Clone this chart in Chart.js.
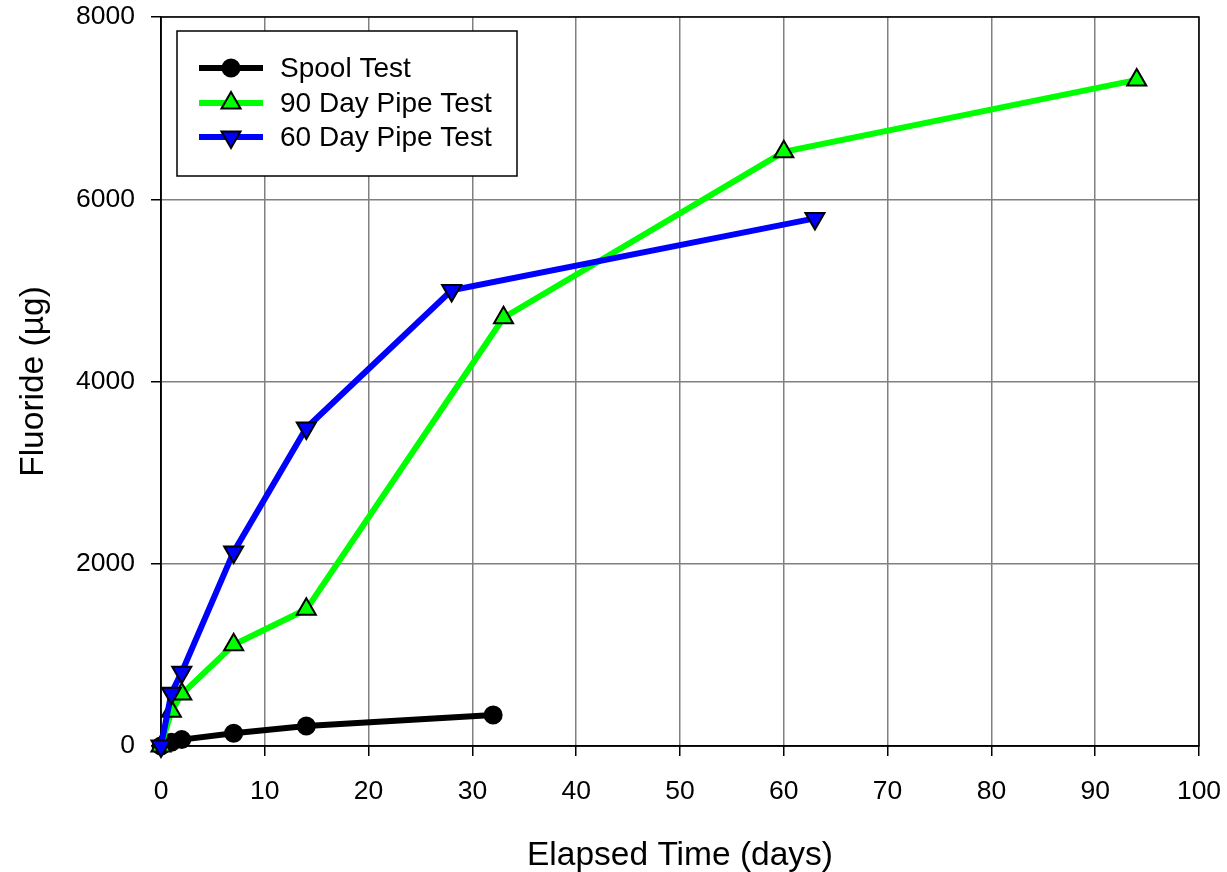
<!DOCTYPE html>
<html>
<head>
<meta charset="utf-8">
<script src="https://cdn.jsdelivr.net/npm/chart.js@4/dist/chart.umd.min.js"></script>
<style>
  html, body { margin: 0; padding: 0; background: #fff; }
  #wrap { width: 1227px; height: 872px; }
</style>
</head>
<body>
<div id="wrap"><canvas id="fluorideChart" width="1227" height="872"></canvas></div>
<script>
// values
const spoolDays = [0, 1, 2, 7, 14, 32];
const spoolFluoride = [0, 40, 70, 140, 220, 340];

const pipe90Days = [0, 1, 2, 7, 14, 33, 60, 94];
const pipe90Fluoride = [0, 380, 570, 1110, 1500, 4700, 6520, 7310];

const pipe60Days = [0, 1, 2, 7, 14, 28, 63];
const pipe60Fluoride = [0, 580, 810, 2130, 3490, 5000, 5790];

const xTicks = [0, 10, 20, 30, 40, 50, 60, 70, 80, 90, 100];
const yTicks = [0, 2000, 4000, 6000, 8000];

const fontFamily = '"Liberation Sans", Arial, sans-serif';

function toPoints(xs, ys) {
    return xs.map((x, i) => ({ x: x, y: ys[i] }));
}

const series = [
    { label: 'Spool Test', color: '#000000', style: 'circle', rotation: 0, radius: 8.5, days: spoolDays, vals: spoolFluoride },
    { label: '90 Day Pipe Test', color: '#00ff00', style: 'triangle', rotation: 0, radius: 11, days: pipe90Days, vals: pipe90Fluoride },
    { label: '60 Day Pipe Test', color: '#0000ff', style: 'triangle', rotation: 180, radius: 11, days: pipe60Days, vals: pipe60Fluoride }
];

// first dataset is top-most, so reverse (60 day on top like the original)
const datasets = series.slice().reverse().map(s => ({
    label: s.label,
    data: toPoints(s.days, s.vals),
    borderColor: s.color,
    borderWidth: 6,
    pointStyle: s.style,
    rotation: s.rotation,
    pointRadius: s.radius,
    pointBackgroundColor: s.color,
    pointBorderColor: '#000',
    pointBorderWidth: 2,
    tension: 0,
    clip: false
}));

// black frame round the plot area
const frame = {
    id: 'frame',
    beforeDatasetsDraw(chart) {
        const a = chart.chartArea, c = chart.ctx;
        c.save();
        c.strokeStyle = '#000';
        c.lineWidth = 1.5;
        c.strokeRect(a.left, a.top, a.right - a.left, a.bottom - a.top);
        c.restore();
    }
};

// legend box inside the plot, drawn by hand
const boxLegend = {
    id: 'boxLegend',
    afterDraw(chart) {
        const c = chart.ctx;
        c.save();
        c.fillStyle = '#fff';
        c.fillRect(177, 31, 340, 145);
        c.strokeStyle = '#000';
        c.lineWidth = 1.5;
        c.strokeRect(177, 31, 340, 145);
        const rows = [68, 103, 137];
        series.forEach((s, i) => {
            const y = rows[i];
            c.strokeStyle = s.color;
            c.lineWidth = 6;
            c.beginPath();
            c.moveTo(199, y);
            c.lineTo(263, y);
            c.stroke();
            c.fillStyle = s.color;
            c.strokeStyle = '#000';
            c.lineWidth = 2;
            Chart.helpers.drawPoint(c, { pointStyle: s.style, radius: s.radius, rotation: s.rotation, borderWidth: 2 }, 231, y);
            c.fillStyle = '#000';
            c.font = '28px ' + fontFamily;
            c.textBaseline = 'middle';
            c.textAlign = 'left';
            c.fillText(s.label, 280, y + 1);
        });
        c.restore();
    }
};

new Chart(document.getElementById('fluorideChart').getContext('2d'), {
    type: 'line',
    data: { datasets: datasets },
    options: {
        responsive: false,
        animation: false,
        layout: { padding: { top: 17, right: 28, left: 0, bottom: 0 } },
        plugins: {
            legend: { display: false },
            tooltip: { enabled: false }
        },
        scales: {
            x: {
                type: 'linear',
                min: 0,
                max: 100,
                afterBuildTicks: scale => { scale.ticks = xTicks.map(v => ({ value: v })); },
                afterFit: scale => {
                    scale.height = 126;
                    scale.paddingLeft = 0;
                    scale.paddingRight = 0;
                },
                grid: { color: '#808080', lineWidth: 1.5, tickColor: '#000', tickLength: 10 },
                border: { color: '#000', width: 1.5 },
                ticks: { color: '#000', font: { family: fontFamily, size: 26.5 }, padding: 20, maxRotation: 0, callback: v => String(v) },
                title: { display: true, text: 'Elapsed Time (days)', color: '#000', font: { family: fontFamily, size: 33.5 }, padding: { top: 0, bottom: -4 } }
            },
            y: {
                type: 'linear',
                min: 0,
                max: 8000,
                afterBuildTicks: scale => { scale.ticks = yTicks.map(v => ({ value: v })); },
                afterFit: scale => {
                    scale.width = 161;
                    scale.paddingTop = 0;
                    scale.paddingBottom = 0;
                },
                grid: { color: '#808080', lineWidth: 1.5, tickColor: '#000', tickLength: 10 },
                border: { color: '#000', width: 1.5 },
                ticks: { color: '#000', font: { family: fontFamily, size: 26.5 }, padding: 16, callback: v => String(v) },
                title: { display: true, text: 'Fluoride (µg)', color: '#000', font: { family: fontFamily, size: 33.5 }, padding: { top: 14 } }
            }
        }
    },
    plugins: [frame, boxLegend]
});
</script>
</body>
</html>
